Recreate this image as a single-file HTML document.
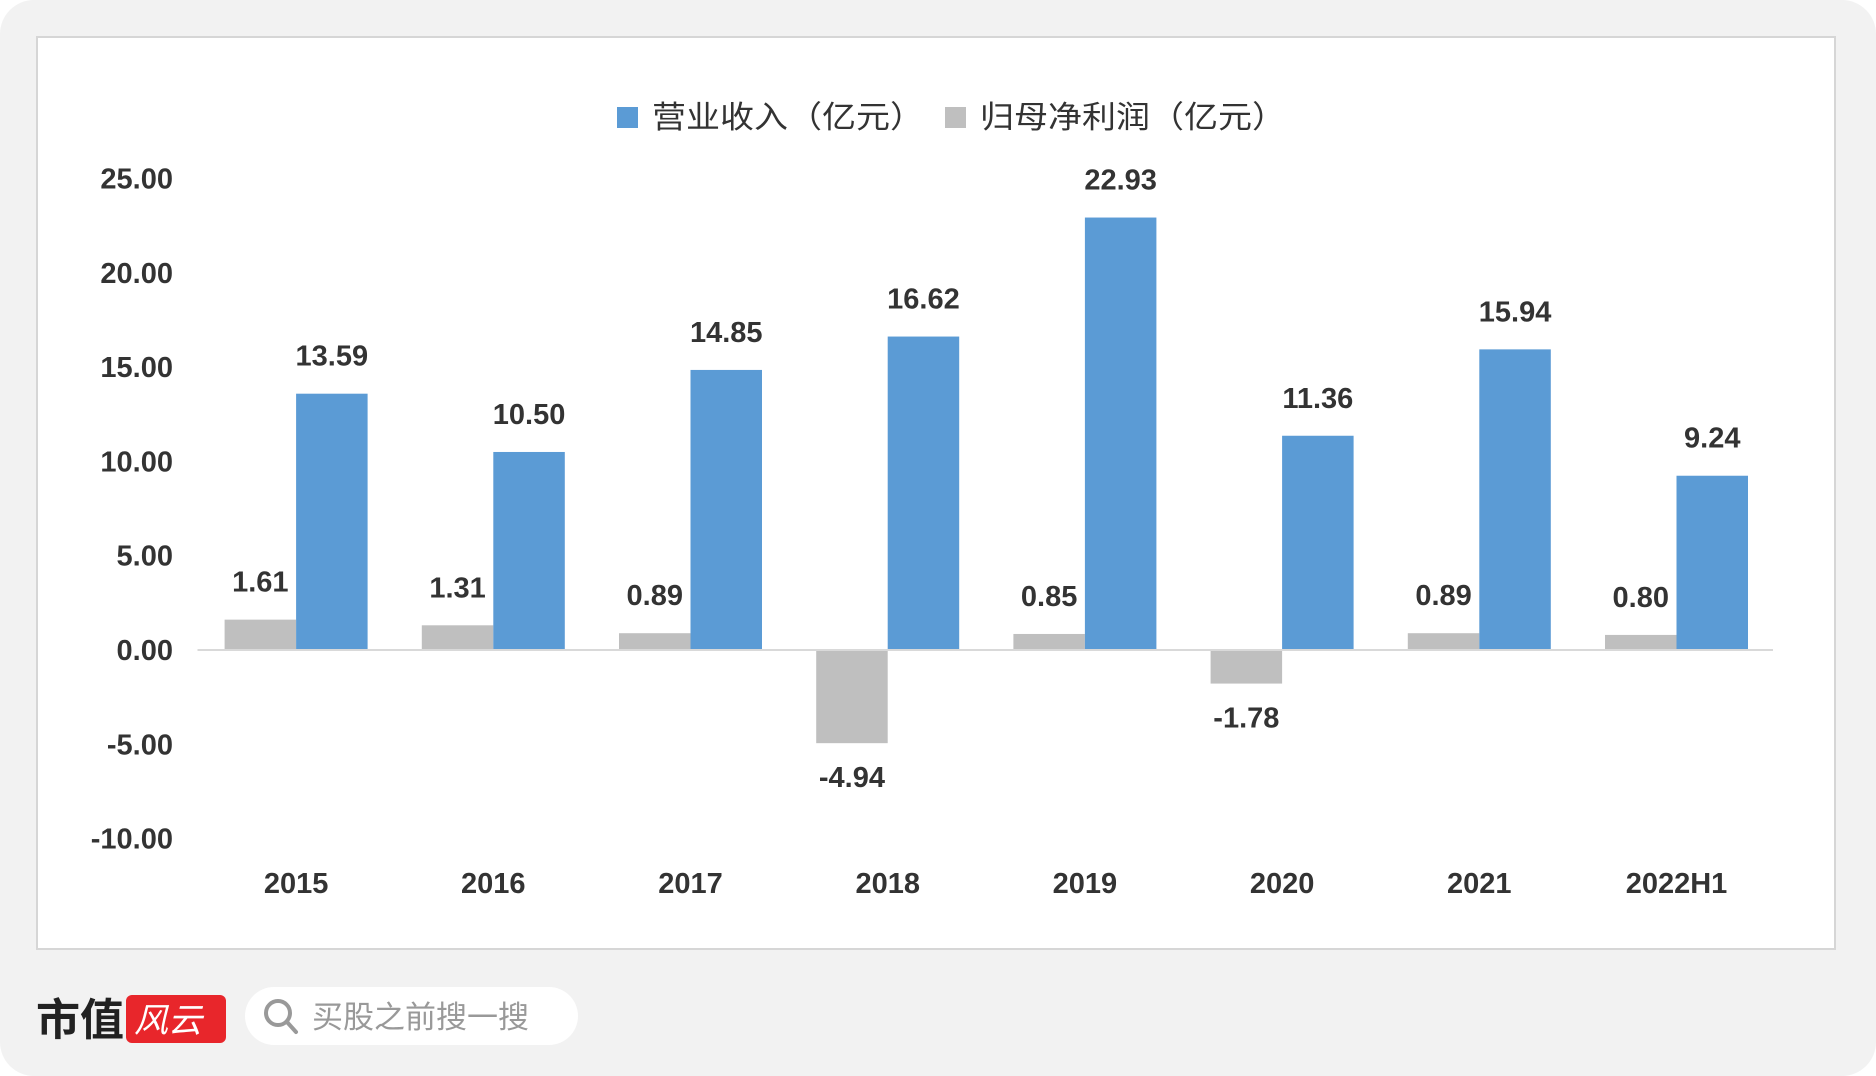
<!DOCTYPE html>
<html><head><meta charset="utf-8">
<style>
html,body{margin:0;padding:0;background:#fff;}
svg{display:block;}
text{font-family:"Liberation Sans Narrow","Liberation Sans","Noto Sans CJK SC",sans-serif;}
.cjk{font-family:"Liberation Sans","Noto Sans CJK SC",sans-serif;}
</style></head>
<body>
<svg id="chart" width="1876" height="1076" viewBox="0 0 1876 1076" xmlns="http://www.w3.org/2000/svg">
<rect x="0" y="0" width="1876" height="1076" rx="34" fill="#f2f2f2"/>
<rect x="37" y="37" width="1798" height="912" fill="#ffffff" stroke="#d6d6d6" stroke-width="2"/>
<g>
  <rect x="617" y="107" width="21" height="21" fill="#5b9bd5"/>
  <text x="652" y="128" font-size="31" fill="#333" class="cjk" textLength="272" lengthAdjust="spacingAndGlyphs">营业收入（亿元）</text>
  <rect x="945" y="107" width="21" height="21" fill="#bfbfbf"/>
  <text x="980" y="128" font-size="31" fill="#333" class="cjk" textLength="306" lengthAdjust="spacingAndGlyphs">归母净利润（亿元）</text>
</g>
<g id="axis"></g>
<g id="bars"></g>
<g>
  <text x="36" y="1035" font-size="44" font-weight="bold" fill="#222" class="cjk">市值</text>
  <rect x="126" y="995" width="100" height="48" rx="6" fill="#e8262b"/>
  <text x="134" y="1032" font-size="34" fill="#fff" font-style="italic" class="cjk">风云</text>
  <rect x="245" y="987" width="333" height="58" rx="29" fill="#ffffff"/>
  <circle cx="278" cy="1013" r="12" fill="none" stroke="#999" stroke-width="4"/>
  <line x1="287" y1="1022" x2="296" y2="1032" stroke="#999" stroke-width="4" stroke-linecap="round"/>
  <text x="312" y="1028" font-size="31" fill="#999" class="cjk">买股之前搜一搜</text>
</g>
</svg>
<script>
const categories = ["2015","2016","2017","2018","2019","2020","2021","2022H1"];
const revenue = [13.59,10.50,14.85,16.62,22.93,11.36,15.94,9.24];
const profit = [1.61,1.31,0.89,-4.94,0.85,-1.78,0.89,0.80];
const yTicks = [25,20,15,10,5,0,-5,-10];

const NS="http://www.w3.org/2000/svg";
const zeroY=650, pxPerUnit=18.86, x0=197.5, step=197.2, barW=71.5;
function y(v){return zeroY - v*pxPerUnit;}
function cx(i){return x0 + step*(i+0.5);}
function mk(tag,attrs,parent){const e=document.createElementNS(NS,tag);for(const k in attrs)e.setAttribute(k,attrs[k]);parent.appendChild(e);return e;}
const axis=document.getElementById('axis'), bars=document.getElementById('bars');

yTicks.forEach(t=>{
  const e=mk('text',{x:173,y:y(t)+10,'font-size':29,'font-weight':'bold',fill:'#333','text-anchor':'end'},axis);
  e.textContent=t.toFixed(2);
  
  
});
categories.forEach((c,i)=>{
  const e=mk('text',{x:cx(i),y:893,'font-size':29,'font-weight':'bold',fill:'#333','text-anchor':'middle'},axis);
  e.textContent=c;
  
  

  const pv=profit[i];
  const pb=mk('rect',{x:cx(i)-barW,y:Math.min(y(pv),zeroY),width:barW,height:Math.abs(y(pv)-zeroY),fill:'#bfbfbf'},bars);
  
  
  const rv=revenue[i];
  const rb=mk('rect',{x:cx(i),y:y(rv),width:barW,height:zeroY-y(rv),fill:'#5b9bd5'},bars);
  
  

  const pl=mk('text',{x:cx(i)-barW/2,y:pv>=0?y(pv)-28:y(pv)+44,'font-size':29,'font-weight':'bold',fill:'#333','text-anchor':'middle'},bars);
  pl.textContent=pv.toFixed(2);
  
  
  const rl=mk('text',{x:cx(i)+barW/2,y:y(rv)-28,'font-size':29,'font-weight':'bold',fill:'#333','text-anchor':'middle'},bars);
  rl.textContent=rv.toFixed(2);
  
  
});
const zl=mk('line',{x1:x0,x2:1773,y1:zeroY,y2:zeroY,stroke:'#d9d9d9','stroke-width':2},bars);


</script>
</body></html>
